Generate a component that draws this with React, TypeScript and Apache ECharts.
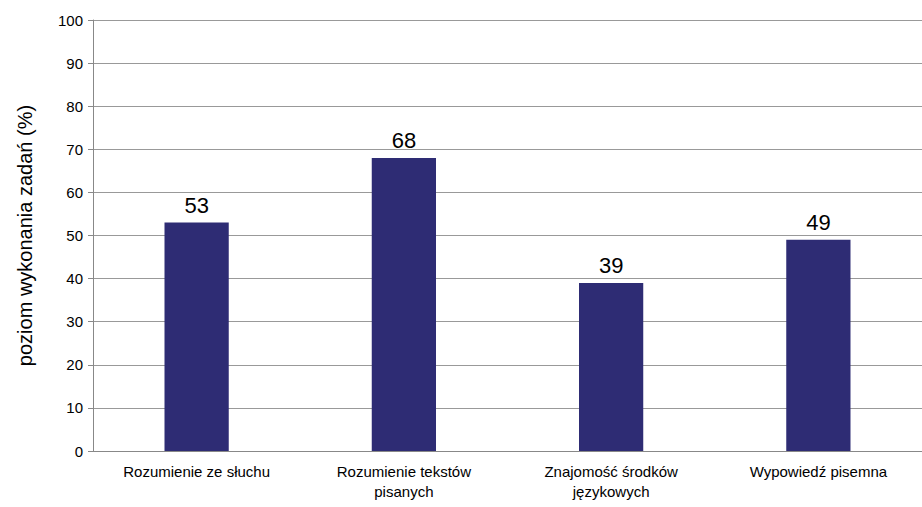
import React, { useEffect, useRef } from 'react';
import * as echarts from 'echarts';

const categories = ['Rozumienie ze słuchu', 'Rozumienie tekstów\npisanych', 'Znajomość środków\njęzykowych', 'Wypowiedź pisemna'];
const values = [53, 68, 39, 49];

const App: React.FC = () => {
  const chartRef = useRef<HTMLDivElement>(null);

  useEffect(() => {
    if (!chartRef.current) return;
    const chart = echarts.init(chartRef.current, null, { renderer: 'svg' });
    chart.setOption({
      animation: false,
      textStyle: { fontFamily: 'Liberation Sans' },
      grid: { left: 93, right: 0, top: 20, bottom: 56 },
      xAxis: {
        type: 'category',
        data: categories,
        axisLine: { lineStyle: { color: '#888' } },
        axisTick: { show: false },
        axisLabel: { color: '#000', fontSize: 15, lineHeight: 20, margin: 10 },
      },
      yAxis: {
        type: 'value',
        min: 0,
        max: 100,
        interval: 10,
        name: 'poziom wykonania zadań (%)',
        nameLocation: 'middle',
        nameGap: 58,
        nameTextStyle: { color: '#000', fontSize: 20 },
        axisLine: { show: true, lineStyle: { color: '#888' } },
        axisTick: { show: true, length: 5, lineStyle: { color: '#888' } },
        axisLabel: { color: '#000', fontSize: 15, margin: 10 },
        splitLine: { lineStyle: { color: '#999' } },
      },
      series: [
        {
          type: 'bar',
          data: values,
          barWidth: '31%',
          itemStyle: { color: '#2E2C74' },
          label: { show: true, position: 'top', color: '#000', fontSize: 22, distance: 6 },
        },
      ],
    });
    return () => chart.dispose();
  }, []);

  return (
    <div
      ref={chartRef}
      style={{ position: 'fixed', left: 0, top: 0, width: '922px', height: '507px', background: '#fff' }}
    ></div>
  );
};

export default App;
